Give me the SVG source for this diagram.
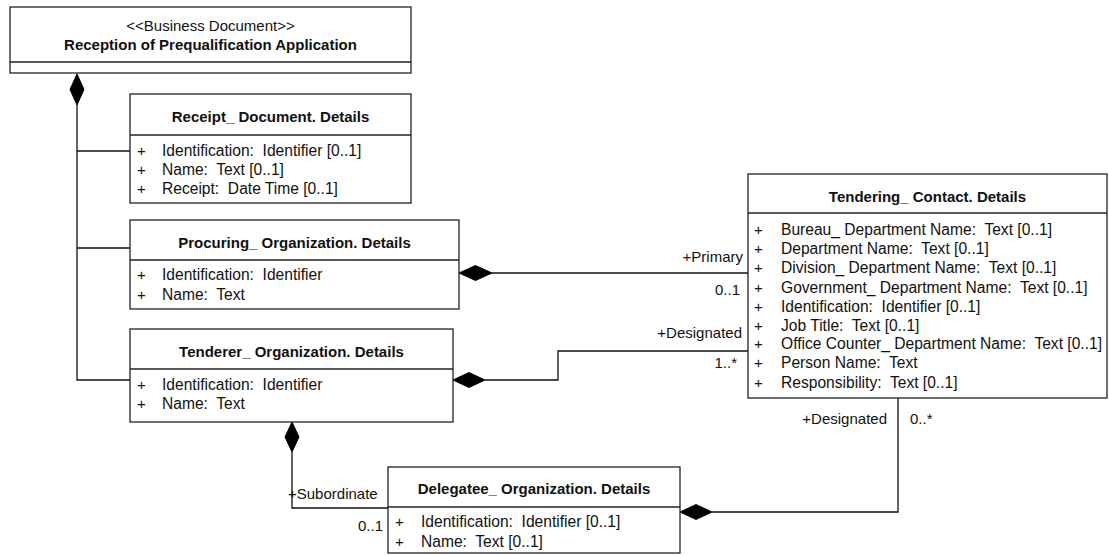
<svg xmlns="http://www.w3.org/2000/svg" width="1109" height="556" viewBox="0 0 1109 556">
  <style>
    .box { fill: #ffffff; stroke: #222222; stroke-width: 1.3; }
    .sep { stroke: #222222; stroke-width: 1.3; }
    .line { fill: none; stroke: #111111; stroke-width: 1.3; }
    .dia { fill: #000000; stroke: #000000; stroke-width: 1; }
    text { font-family: "Liberation Sans", Arial, sans-serif; font-size: 15px; fill: #111111; white-space: pre; }
    .title { font-weight: bold; text-anchor: middle; }
    .st { text-anchor: middle; }
    .end { text-anchor: end; }
    .attr { font-size: 15.6px; }
  </style>

  <!-- connectors -->
  <g id="connectors">
    <!-- composition: business document to its detail classes -->
    <polyline class="line" points="77,105 77,380 130,380"/>
    <line class="line" x1="77" y1="151" x2="130" y2="151"/>
    <line class="line" x1="77" y1="248" x2="130" y2="248"/>
    <polygon class="dia" points="77,74 84,89.5 77,105 70,89.5"/>

    <!-- Procuring to Tendering Contact (+Primary) -->
    <line class="line" x1="492" y1="273" x2="748" y2="273"/>
    <polygon class="dia" points="459,273 475.5,265.5 492,273 475.5,280.5"/>
    <text class="end" x="743" y="262">+Primary</text>
    <text class="end" x="740" y="295">0..1</text>

    <!-- Tenderer to Tendering Contact (+Designated) -->
    <polyline class="line" points="485,380 558,380 558,351 748,351"/>
    <polygon class="dia" points="453,380 469,372.5 485,380 469,387.5"/>
    <text class="end" x="742" y="338">+Designated</text>
    <text class="end" x="737" y="368">1..*</text>

    <!-- Tenderer to Delegatee (+Subordinate) -->
    <polyline class="line" points="292,452 292,508 388,508"/>
    <polygon class="dia" points="292,422 299,437 292,452 285,437"/>
    <text x="288" y="499">+Subordinate</text>
    <text class="end" x="383" y="531">0..1</text>

    <!-- Delegatee to Tendering Contact (+Designated) -->
    <polyline class="line" points="712,512 898,512 898,398"/>
    <polygon class="dia" points="680,512 696,504.5 712,512 696,519.5"/>
    <text class="end" x="887" y="424">+Designated</text>
    <text x="910" y="424">0..*</text>
  </g>

  <g id="reception-of-prequalification-application">
    <rect class="box" x="10" y="7" width="401" height="66"/>
    <line class="sep" x1="10" y1="62" x2="411" y2="62"/>
    <text class="st" x="210.5" y="31">&lt;&lt;Business Document&gt;&gt;</text>
    <text class="title" x="210.5" y="50">Reception of Prequalification Application</text>
  </g>

  <g id="receipt-document-details">
    <rect class="box" x="130" y="94" width="281" height="109"/>
    <line class="sep" x1="130" y1="135" x2="411" y2="135"/>
    <text class="title" x="270.5" y="122">Receipt_ Document. Details</text>
    <text x="137" y="156">+</text><text class="attr" x="162" y="156">Identification:  Identifier [0..1]</text>
    <text x="137" y="175">+</text><text class="attr" x="162" y="175">Name:  Text [0..1]</text>
    <text x="137" y="194">+</text><text class="attr" x="162" y="194">Receipt:  Date Time [0..1]</text>
  </g>

  <g id="procuring-organization-details">
    <rect class="box" x="130" y="220" width="329" height="89"/>
    <line class="sep" x1="130" y1="260" x2="459" y2="260"/>
    <text class="title" x="294.5" y="248">Procuring_ Organization. Details</text>
    <text x="137" y="280">+</text><text class="attr" x="162" y="280">Identification:  Identifier</text>
    <text x="137" y="300">+</text><text class="attr" x="162" y="300">Name:  Text</text>
  </g>

  <g id="tenderer-organization-details">
    <rect class="box" x="130" y="329" width="323" height="93"/>
    <line class="sep" x1="130" y1="369" x2="453" y2="369"/>
    <text class="title" x="291.5" y="357">Tenderer_ Organization. Details</text>
    <text x="137" y="390">+</text><text class="attr" x="162" y="390">Identification:  Identifier</text>
    <text x="137" y="409">+</text><text class="attr" x="162" y="409">Name:  Text</text>
  </g>

  <g id="tendering-contact-details">
    <rect class="box" x="748" y="174" width="359" height="224"/>
    <line class="sep" x1="748" y1="213" x2="1107" y2="213"/>
    <text class="title" x="927.5" y="202">Tendering_ Contact. Details</text>
    <text x="754" y="235">+</text><text class="attr" x="781" y="235">Bureau_ Department Name:  Text [0..1]</text>
    <text x="754" y="254">+</text><text class="attr" x="781" y="254">Department Name:  Text [0..1]</text>
    <text x="754" y="273">+</text><text class="attr" x="781" y="273">Division_ Department Name:  Text [0..1]</text>
    <text x="754" y="293">+</text><text class="attr" x="781" y="293">Government_ Department Name:  Text [0..1]</text>
    <text x="754" y="312">+</text><text class="attr" x="781" y="312">Identification:  Identifier [0..1]</text>
    <text x="754" y="331">+</text><text class="attr" x="781" y="331">Job Title:  Text [0..1]</text>
    <text x="754" y="349">+</text><text class="attr" x="781" y="349">Office Counter_ Department Name:  Text [0..1]</text>
    <text x="754" y="368">+</text><text class="attr" x="781" y="368">Person Name:  Text</text>
    <text x="754" y="388">+</text><text class="attr" x="781" y="388">Responsibility:  Text [0..1]</text>
  </g>

  <g id="delegatee-organization-details">
    <rect class="box" x="388" y="467" width="292" height="86"/>
    <line class="sep" x1="388" y1="507" x2="680" y2="507"/>
    <text class="title" x="534" y="494">Delegatee_ Organization. Details</text>
    <text x="395" y="527">+</text><text class="attr" x="421" y="527">Identification:  Identifier [0..1]</text>
    <text x="395" y="547">+</text><text class="attr" x="421" y="547">Name:  Text [0..1]</text>
  </g>
</svg>
